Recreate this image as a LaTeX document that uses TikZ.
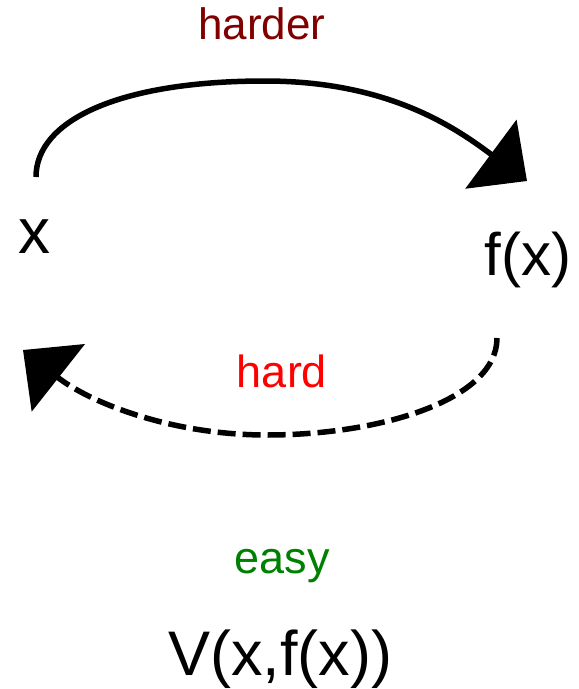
\documentclass[tikz,border=0pt]{standalone}
\usepackage{fontspec}
\setmainfont{Liberation Sans}
\usetikzlibrary{arrows.meta}
\definecolor{harderred}{RGB}{128,0,0}
\definecolor{hardred}{RGB}{255,0,0}
\definecolor{easygreen}{RGB}{0,128,0}
\tikzset{
  lbl/.style={inner sep=0pt, anchor=base},
  bigtip/.style={-{Triangle[length=45pt,width=85pt]}},
  conn/.style={line width=5.5pt, black, bigtip},
  dashconn/.style={conn, dash pattern=on 18pt off 7pt},
}
\newcommand{\fs}[1]{\fontsize{#1}{#1}\selectfont}
\begin{document}
\begin{tikzpicture}[x=1pt,y=-1pt]
\useasboundingbox (0,0) rectangle (579,689);
% labels
\node[lbl, text=harderred] (harder) at (262,39) {\fs{44}harder};
\node[lbl] (x) at (34,253) {\fs{64}x};
\node[lbl] (fx) at (528,275) {\fs{60}f(x)};
\node[lbl, text=hardred] (hard) at (282,387) {\fs{45}hard};
\node[lbl, text=easygreen] (easy) at (282,573) {\fs{45}easy};
\node[lbl] (V) at (280,675) {\fs{63}V(x,f(x))};
% connector end points
\coordinate (xs) at (36,177);
\coordinate (top) at (265,81);
\coordinate (fe) at (527,181);
\coordinate (fs) at (497,338);
\coordinate (bot) at (267,435);
\coordinate (xe) at (23,350);
% harder: x -> f(x)
\draw[conn] (xs) .. controls +(0,-57) and +(-145,0) .. (top)
  .. controls +(125,0) and (457,129) .. (fe);
% hard: f(x) -> x (dashed)
\draw[dashconn] (fs) .. controls +(0,62) and +(113,0) .. (bot)
  .. controls +(-97,0) and (89,402) .. (xe);
\end{tikzpicture}
\end{document}
